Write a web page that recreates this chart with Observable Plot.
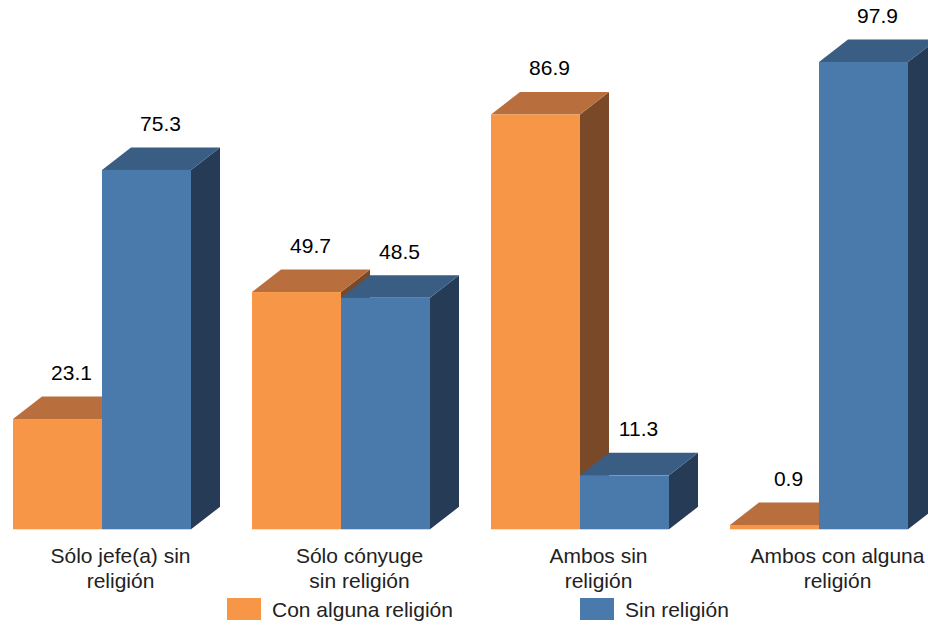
<!DOCTYPE html>
<html>
<head>
<meta charset="utf-8">
<script src="https://cdn.jsdelivr.net/npm/d3@7"></script>
<script src="https://cdn.jsdelivr.net/npm/@observablehq/plot@0.6"></script>
<style>
  body { margin: 0; background: #fff; font-family: "Liberation Sans", Arial, sans-serif; }
  #chart svg { display: block; overflow: hidden; }
  .legend { position: relative; width: 928px; height: 33px; }
  .legend .sw { position: absolute; top: 6px; width: 34px; height: 22px; }
  .legend .lb { position: absolute; top: 6.7px; font-size: 21px; line-height: 22px; color: #222; white-space: nowrap; }
</style>
</head>
<body>
<div id="chart"></div>
<div class="legend" id="legend"></div>
<script>
// ---- data ----
const categories = [
  "Sólo jefe(a) sin religión",
  "Sólo cónyuge sin religión",
  "Ambos sin religión",
  "Ambos con alguna religión"
];
const tickLabels = [
  "Sólo jefe(a) sin\nreligión",
  "Sólo cónyuge\nsin religión",
  "Ambos sin\nreligión",
  "Ambos con alguna\nreligión"
];
const series = ["Con alguna religión", "Sin religión"];
const conAlgunaReligion = [23.1, 49.7, 86.9, 0.9];
const sinReligion = [75.3, 48.5, 11.3, 97.9];

// ---- styles ----
const frontColors = ["#F79646", "#4A7AAB"];
const topColors = ["#B96F3D", "#3A5D83"];
const sideColors = ["#7A4A28", "#263B56"];
const DX = 29, DY = 22.5;

const rows = categories.flatMap((c, i) => [
  {category: c, series: series[0], value: conAlgunaReligion[i]},
  {category: c, series: series[1], value: sinReligion[i]}
]);

function bar3d(data, options) {
  return Plot.barY(data, {
    ...options,
    render(index, scales, values) {
      const X = values.x, Y1 = values.y1, Y2 = values.y2;
      const bw = scales.x.bandwidth();
      const g = d3.create("svg:g");
      for (const i of index) {
        const s = series.indexOf(data[i].series);
        const x0 = X[i], x1 = X[i] + bw;
        const yt = Math.min(Y1[i], Y2[i]), yb = Math.max(Y1[i], Y2[i]);
        const side = [[x1, yb], [x1, yt], [x1 + DX, yt - DY], [x1 + DX, yb - DY]];
        const top = [[x0, yt], [x0 + DX, yt - DY], [x1 + DX, yt - DY], [x1, yt]];
        g.append("polygon").attr("points", side.join(" ")).attr("fill", sideColors[s]);
        g.append("polygon").attr("points", top.join(" ")).attr("fill", topColors[s]);
        g.append("rect").attr("x", x0).attr("y", yt).attr("width", bw).attr("height", yb - yt).attr("fill", frontColors[s]);
      }
      return g.node();
    }
  });
}

const chart = Plot.plot({
  width: 928,
  height: 592,
  marginTop: 52,
  marginBottom: 62.7,
  marginLeft: 13,
  marginRight: 19,
  style: {fontFamily: "'Liberation Sans', Arial, sans-serif", fontSize: "21px", background: "#fff"},
  fx: {domain: categories, paddingInner: 0.255, paddingOuter: 0, axis: null},
  x: {domain: series, padding: 0, axis: null},
  y: {domain: [0, 100], axis: null},
  marks: [
    bar3d(rows, {fx: "category", x: "series", y: "value"}),
    Plot.text(rows, {
      fx: "category", x: "series", y: "value",
      text: d => d.value.toFixed(1),
      dx: 13.5, dy: -46.5, fontSize: 21, fill: "#000"
    }),
    Plot.text(categories, {
      fx: categories,
      text: tickLabels,
      frameAnchor: "bottom",
      lineAnchor: "top",
      dx: 18, dy: 15.8,
      lineHeight: 25 / 21,
      fontSize: 21,
      fill: "#222"
    })
  ]
});
document.getElementById("chart").appendChild(chart);

// ---- legend ----
const legendPos = [{sw: 227, lb: 272}, {sw: 580, lb: 625}];
const legend = document.getElementById("legend");
series.forEach((s, i) => {
  const sw = document.createElement("div");
  sw.className = "sw";
  sw.style.left = legendPos[i].sw + "px";
  sw.style.background = frontColors[i];
  legend.appendChild(sw);
  const lb = document.createElement("div");
  lb.className = "lb";
  lb.style.left = legendPos[i].lb + "px";
  lb.textContent = s;
  legend.appendChild(lb);
});
</script>
</body>
</html>
